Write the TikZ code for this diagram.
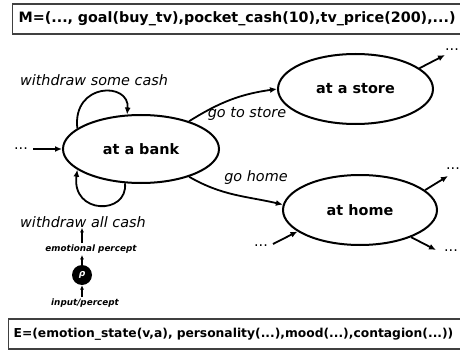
\documentclass[tikz,border=0pt]{standalone}
\usepackage{fontspec}
\setmainfont{DejaVu Sans}
\usetikzlibrary{shapes.geometric,arrows.meta}
\begin{document}
\begin{tikzpicture}[x=1pt,y=-1pt,
  state/.style={ellipse,draw,line width=2pt,inner sep=0pt,font=\fontsize{14.4}{16}\selectfont\bfseries},
  lbl/.style={font=\fontsize{14.4}{16}\selectfont\itshape,inner sep=0pt},
  small/.style={font=\fontsize{8.8}{10}\selectfont\bfseries\itshape,inner sep=1.5pt},
  edge/.style={line width=1.8pt,-{Latex[length=7pt,width=6pt]}},
  sedge/.style={line width=1.2pt,-{Latex[length=4.5pt,width=4pt]}},
  dots/.style={font=\fontsize{14.4}{16}\selectfont,inner sep=0pt},
  box/.style={draw=black!75,line width=1.3pt,anchor=west,minimum height=30pt,
    inner xsep=6pt,text width=458pt,align=left,font=\bfseries}]
\useasboundingbox (0,0) rectangle (460,350);
\clip (0,0) rectangle (460,350);

\node[box,font=\fontsize{14.3}{16}\selectfont\bfseries] (M) at (12,19)
  {\hbox{M=(..., goal(buy\_tv),pocket\_cash(10),tv\_price(200),...)}};
\node[box,inner xsep=5pt,font=\fontsize{12.3}{14}\selectfont\bfseries] (E) at (8,334)
  {\hbox{E=(emotion\_state(v,a), personality(...),mood(...),contagion(...))}};

\node[state,minimum width=156pt,minimum height=68pt] (bank) at (141,149) {at a bank};
\node[state,minimum width=155pt,minimum height=70pt] (store) at (355.5,89) {at a store};
\node[state,minimum width=154pt,minimum height=70pt] (home) at (360,210) {at home};

% loops
\node[lbl] (wsc) at (94,80) {withdraw some cash};
\node[lbl] (wac) at (83,222) {withdraw all cash};
\draw[edge] (bank.162) .. controls +(-5,-46) and +(3,-33) .. (bank.112);
\draw[edge] (bank.245) .. controls +(3,32) and +(-6,45) .. (bank.198);

% incoming to bank
\node[dots] (d0) at (21,149) {...};
\coordinate (b0) at (33,149);
\draw[edge] (b0) -- (bank.west);

% bank -> store, bank -> home
\draw[edge] (bank.30) to[out=32,in=188] (store.west);
\node[lbl] (gts) at (247,114) {go to store};
\draw[edge] (bank.330) to[out=-30,in=167] (home.176);
\node[lbl] (gh) at (256,178) {go home};

% store out
\node[dots] (d1) at (452,50) {...};
\coordinate (s1) at (445,55);
\draw[edge] (store.18) -- (s1);

% home out
\node[dots] (d2) at (453,169) {...};
\coordinate (h1) at (448,176);
\draw[edge] (home.17) -- (h1);
\node[dots] (d3) at (451,251) {...};
\coordinate (h2) at (436,250);
\draw[edge] (home.332) -- (h2);

% home in
\node[dots] (d4) at (261,246) {...};
\coordinate (h3) at (273,244);
\draw[edge] (h3) -- (home.199.5);

% emotional percept chain
\node[circle,fill=black,minimum size=20pt,inner sep=0pt,text=white,font=\fontsize{9}{10}\selectfont\bfseries\itshape] (rho) at (82,275) {ρ};
\node[small] (emo) at (91,249) {emotional percept};
\node[small] (inp) at (85,303) {input/percept};
\draw[sedge] (inp.north -| rho) -- (rho.south);
\draw[sedge] (rho.north) -- (emo.south -| rho);
\draw[sedge] (emo.north -| rho) -- (wac.south -| rho);
\end{tikzpicture}
\end{document}
